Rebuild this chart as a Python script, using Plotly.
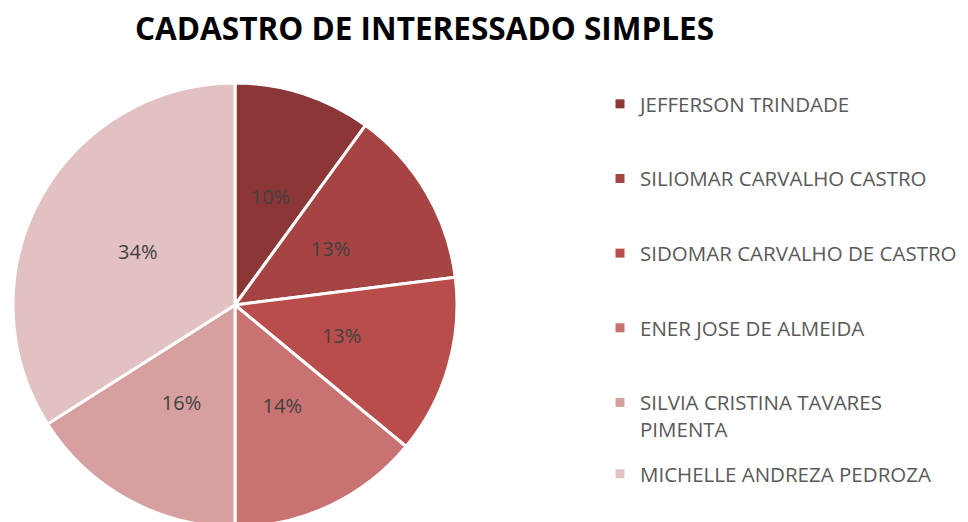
import plotly.graph_objects as go

labels = ["JEFFERSON TRINDADE", "SILIOMAR CARVALHO CASTRO", "SIDOMAR CARVALHO DE CASTRO",
          "ENER JOSE DE ALMEIDA", "SILVIA CRISTINA TAVARES PIMENTA", "MICHELLE ANDREZA PEDROZA"]
legend_labels = ["JEFFERSON TRINDADE", "SILIOMAR CARVALHO CASTRO", "SIDOMAR CARVALHO DE CASTRO",
                 "ENER JOSE DE ALMEIDA", "SILVIA CRISTINA TAVARES<br>PIMENTA", "MICHELLE ANDREZA PEDROZA"]
values = [10, 13, 13, 14, 16, 34]
colors = ["#8B3737", "#A54442", "#B84D4B", "#C87372", "#D6A0A0", "#E2C1C3"]
legend_slots = ["legend", "legend", "legend", "legend", "legend", "legend2"]

FONT = "Open Sans"
W, H = 968, 522
# page body has an 8px margin; work in figure pixels
CX, CY, R = 227, 297, 222      # pie centre / radius (figure px)
R_LAB = 150                    # ring used to place the percentage labels

def dom(r):
    return dict(x=[(CX - r) / W, (CX + r) / W], y=[(H - CY - r) / H, (H - CY + r) / H])

fig = go.Figure()
fig.add_trace(go.Pie(
    labels=labels, values=values, sort=False, direction="clockwise", rotation=0,
    marker=dict(colors=colors, line=dict(color="white", width=3)),
    textposition="none", domain=dom(R),
    showlegend=False, hoverinfo="label+percent",
))
# transparent ring carrying the data labels at ~half radius
fig.add_trace(go.Pie(
    labels=labels, values=values, sort=False, direction="clockwise", rotation=0,
    marker=dict(colors=["rgba(0,0,0,0)"] * len(values), line=dict(width=0)),
    hole=0.48,
    texttemplate="%{percent:.0%}", textposition="inside", insidetextorientation="horizontal",
    textfont=dict(family=FONT, size=20, color="#404040"),
    domain=dom(R_LAB), showlegend=False, hoverinfo="skip",
))
for i, (lab, col, lg) in enumerate(zip(legend_labels, colors, legend_slots)):
    fig.add_trace(go.Scatter(
        x=[None], y=[None], mode="markers", name=lab, legendgroup="g%d" % i, legend=lg,
        marker=dict(symbol="square", size=9, color=col), showlegend=True,
    ))

leg_common = dict(xanchor="left", yanchor="top", valign="top",
                  font=dict(family=FONT, size=20.5, color="#595959"),
                  itemclick=False, itemdoubleclick=False)
fig.update_layout(
    width=W, height=H,
    margin=dict(l=0, r=0, t=0, b=0),
    paper_bgcolor="white", plot_bgcolor="white",
    title=dict(text="<b>CADASTRO DE INTERESSADO SIMPLES</b>", x=416.5 / W, xanchor="center",
               y=1 - 21 / H, yanchor="middle", font=dict(family=FONT, size=31.5, color="black")),
    xaxis=dict(visible=False), yaxis=dict(visible=False),
    legend=dict(x=592 / W, y=1 - 76 / H, traceorder="grouped", tracegroupgap=45, **leg_common),
    legend2=dict(x=592 / W, y=1 - 446 / H, **leg_common),
)
fig.write_html("out.html")
